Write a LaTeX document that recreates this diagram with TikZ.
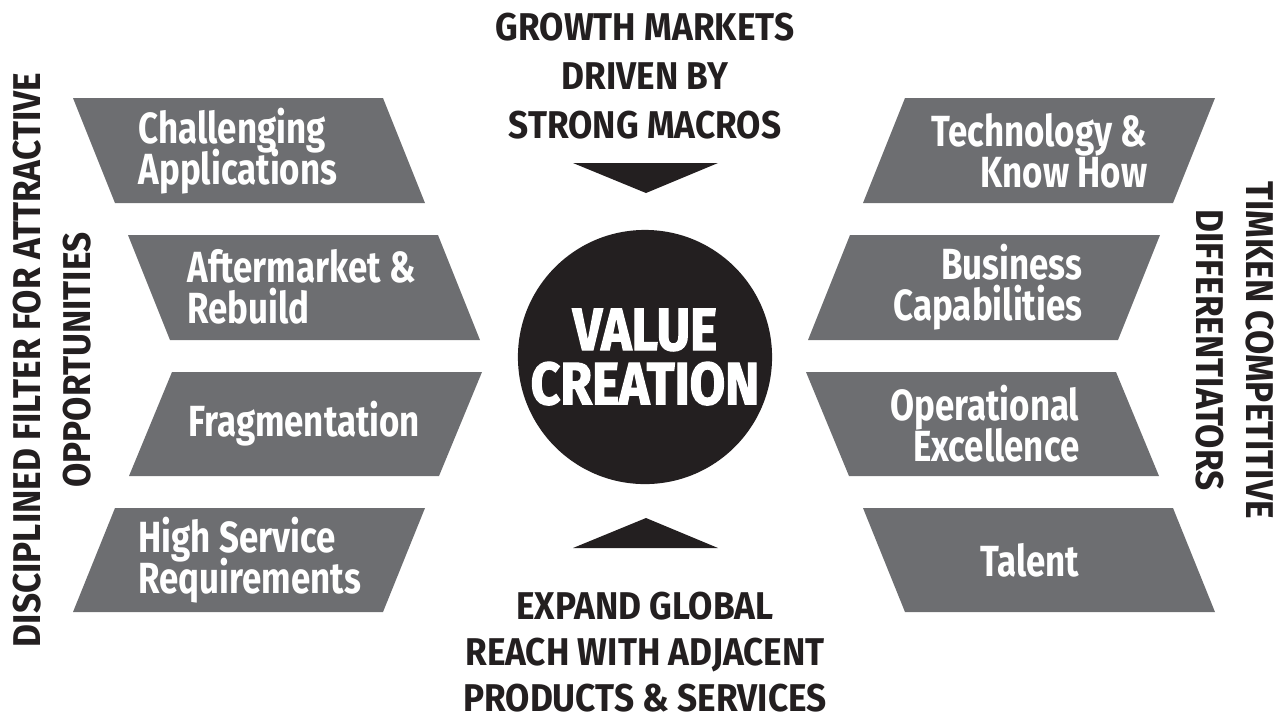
\documentclass[tikz,border=0pt]{standalone}
\usepackage{fontspec}
\setmainfont{Fira Sans}[FakeStretch=0.8]
\newfontfamily\headfont{Fira Sans}[FakeStretch=0.91]
\newfontfamily\heavyfont{Fira Sans}[FakeStretch=0.86,BoldFeatures={FakeBold=2}]
\definecolor{boxgrey}{HTML}{6D6E71}
\definecolor{ink}{HTML}{231F20}
\setlength{\lineskiplimit}{-100pt}

\begin{document}
\begin{tikzpicture}[x=0.01cm,y=-0.01cm,
    box/.style={fill=boxgrey},
    lbl/.style={text=white,font=\bfseries\fontsize{12.4}{11.6}\selectfont,inner sep=0pt},
    head/.style={text=ink,font=\headfont\bfseries\fontsize{11}{14}\selectfont,align=center,inner sep=0pt}]
        \useasboundingbox (0,0) rectangle (1287,717);

        \fill[box] (73,98) -- (383,98) -- (425,203) -- (115,203) -- cycle;
        \fill[box] (128,235) -- (438,235) -- (480,340) -- (170,340) -- cycle;
        \fill[box] (172,372) -- (482,372) -- (439,476) -- (129,476) -- cycle;
        \fill[box] (115,508) -- (425,508) -- (383,612) -- (73,612) -- cycle;
        \fill[box] (1215,98) -- (905,98) -- (863,203) -- (1173,203) -- cycle;
        \fill[box] (1160,235) -- (850,235) -- (808,340) -- (1118,340) -- cycle;
        \fill[box] (1116,372) -- (806,372) -- (849,476) -- (1159,476) -- cycle;
        \fill[box] (1173,508) -- (863,508) -- (905,612) -- (1215,612) -- cycle;

        \node[lbl,anchor=west,align=left] (l1) at (138,151) {Challenging\\Applications};
        \node[lbl,anchor=west,align=left] (l2) at (187,287) {Aftermarket \&\\Rebuild};
        \node[lbl,anchor=west,align=left] (l3) at (188,424) {Fragmentation};
        \node[lbl,anchor=west,align=left] (l4) at (138,560) {High Service\\Requirements};
        \node[lbl,anchor=east,align=right] (r1) at (1148,151) {Technology \&\\Know How};
        \node[lbl,anchor=east,align=right] (r2) at (1083,287) {Business\\Capabilities};
        \node[lbl,anchor=east,align=right] (r3) at (1080,424) {Operational\\Excellence};
        \node[lbl,anchor=east,align=right] (r4) at (1080,560) {Talent};

        \node[circle,fill=ink,minimum size=2.54cm,inner sep=0pt,text=white,align=center,
            font=\heavyfont\bfseries\fontsize{17}{15.4}\selectfont] (vc) at (645,357) {VALUE\\CREATION};
        \fill[ink] (573,163) -- (718,163) -- (646,193) -- cycle;
        \fill[ink] (573,548) -- (718,548) -- (646,518) -- cycle;

        \node[head] (g) at (645,76) {GROWTH MARKETS\\DRIVEN BY\\STRONG MACROS};
        \node[head,font=\headfont\bfseries\fontsize{11}{13}\selectfont] (e) at (645,652) {EXPAND GLOBAL\\REACH WITH ADJACENT\\PRODUCTS \& SERVICES};
        \node[head,rotate=90] (lt) at (52,360) {DISCIPLINED FILTER FOR ATTRACTIVE\\OPPORTUNITIES};
        \node[head,rotate=-90] (rt) at (1235,350) {TIMKEN COMPETITIVE\\DIFFERENTIATORS};
    \end{tikzpicture}
\end{document}
